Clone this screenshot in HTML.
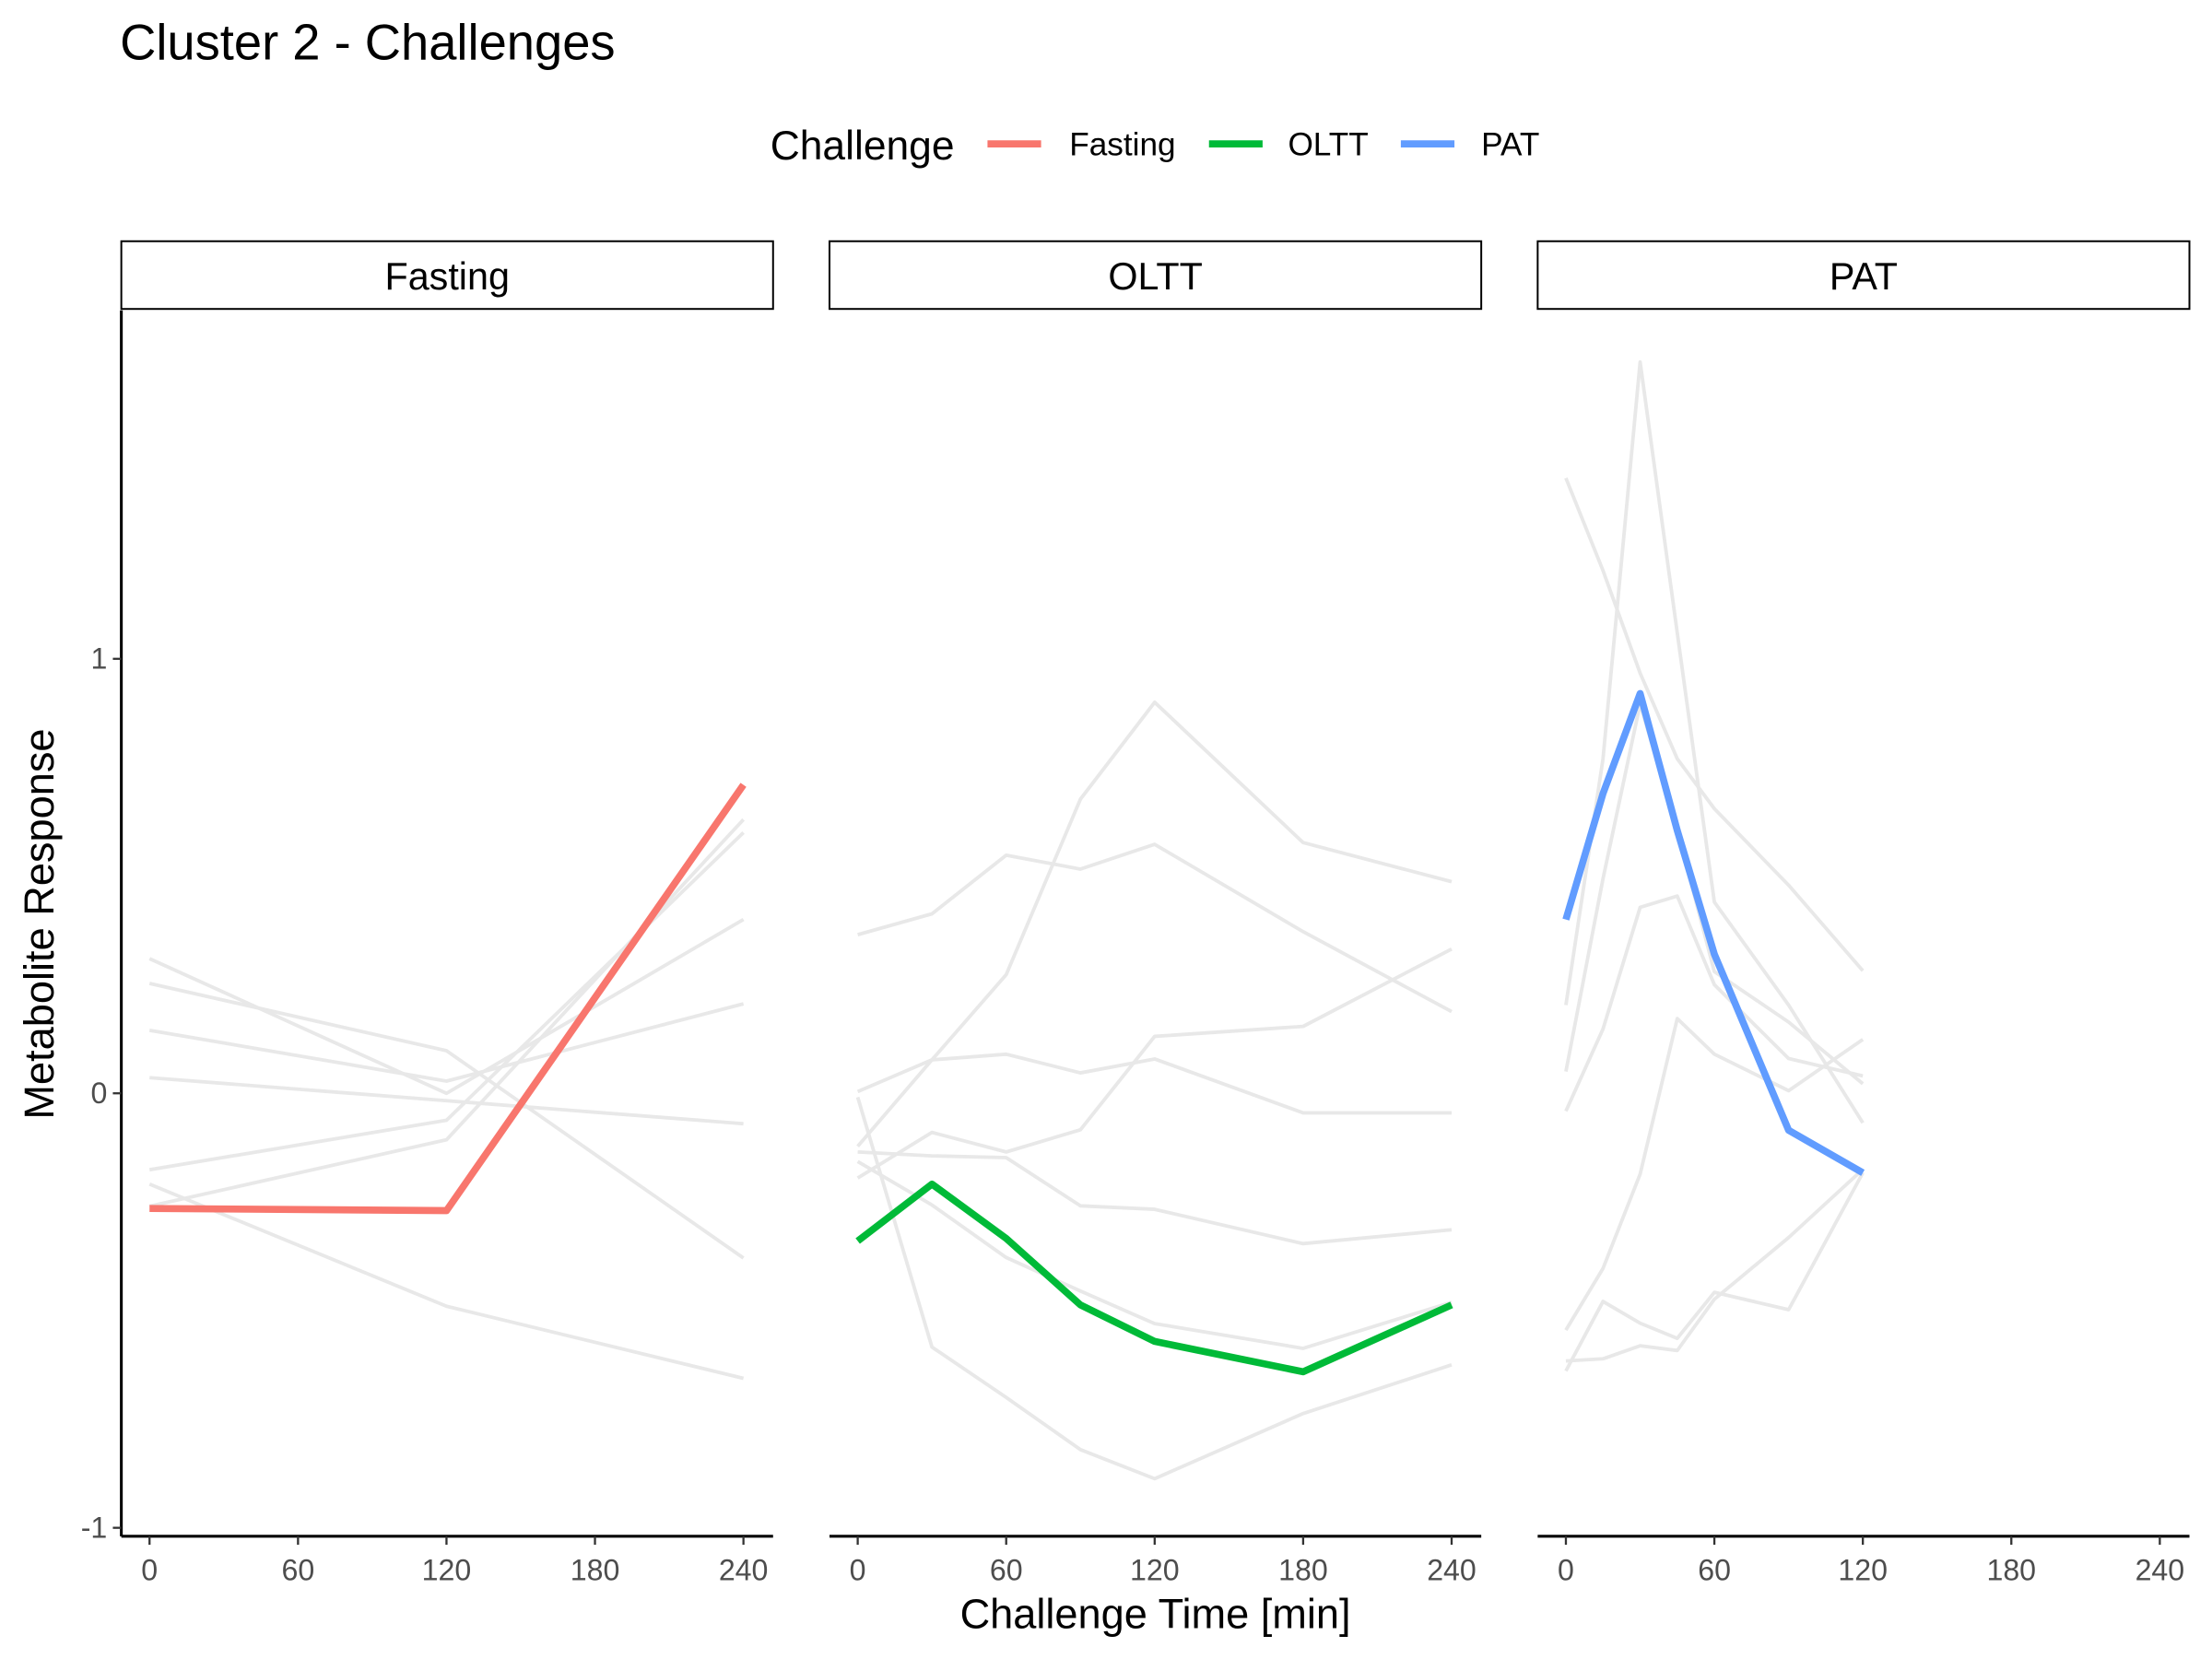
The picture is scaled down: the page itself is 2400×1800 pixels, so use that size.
<!DOCTYPE html>
<html><head><meta charset="utf-8"><style>
html,body{margin:0;padding:0;background:#fff;}
svg{display:block;font-family:"Liberation Sans",Arial,sans-serif;}
</style></head><body>
<svg id="chart" width="2400" height="1800" viewBox="0 0 1568 1176" xmlns="http://www.w3.org/2000/svg">
<text x="85" y="42" font-size="35.5" fill="#000">Cluster 2 - Challenges</text>
<g>
<text x="546" y="113" font-size="29">Challenge</text>
<line x1="700" y1="102" x2="738" y2="102" stroke="#F8766D" stroke-width="5"/>
<text x="758" y="110" font-size="23">Fasting</text>
<line x1="857" y1="102" x2="895" y2="102" stroke="#00BA38" stroke-width="5"/>
<text x="913" y="110" font-size="23">OLTT</text>
<line x1="993" y1="102" x2="1031" y2="102" stroke="#619CFF" stroke-width="5"/>
<text x="1050" y="110" font-size="23">PAT</text>
</g>
<g id="panels"></g>
<line x1="86" y1="220" x2="86" y2="1089" stroke="#000" stroke-width="2"/>
<text x="819" y="1154" font-size="29.5" text-anchor="middle">Challenge Time [min]</text>
<text transform="translate(38,655) rotate(-90)" font-size="29.5" text-anchor="middle">Metabolite Response</text>
</svg>
<script>
const panelNames = ["Fasting","OLTT","PAT"];
const panelColors = ["#F8766D","#00BA38","#619CFF"];
const xTicks = [0,60,120,180,240];
const yTicks = [-1,0,1];
const fastingTimes = [0,120,240];
const olttTimes = [0,30,60,90,120,180,240];
const patTimes = [0,15,30,45,60,90,120];
const fastingMean = [-0.265,-0.27,0.71];
const fastingGrey = [
 [0.31,0.0,0.40],[0.253,0.098,-0.379],[0.145,0.028,0.206],[0.036,-0.017,-0.07],
 [-0.176,-0.062,0.60],[-0.26,-0.107,0.63],[-0.209,-0.49,-0.656]];
const oltMean = [-0.34,-0.209,-0.334,-0.487,-0.571,-0.641,-0.487];
const oltGrey = [
 [-0.122,0.077,0.273,0.677,0.90,0.577,0.487],
 [0.365,0.413,0.548,0.516,0.573,0.372,0.188],
 [0.004,0.077,0.09,0.047,0.079,-0.045,-0.045],
 [-0.195,-0.09,-0.135,-0.084,0.131,0.154,0.332],
 [-0.135,-0.144,-0.148,-0.259,-0.267,-0.346,-0.314],
 [-0.157,-0.257,-0.378,-0.455,-0.53,-0.587,-0.481],
 [-0.009,-0.584,-0.70,-0.82,-0.887,-0.737,-0.625]];
const patMean = [0.40,0.69,0.92,0.605,0.32,-0.085,-0.183];
const patGrey = [
 [0.203,0.77,1.683,1.06,0.44,0.203,-0.068],
 [1.416,1.203,0.967,0.77,0.655,0.479,0.282],
 [0.05,0.494,0.896,0.605,0.28,0.164,0.022],
 [-0.041,0.148,0.428,0.454,0.25,0.08,0.04],
 [-0.545,-0.403,-0.186,0.172,0.09,0.006,0.124],
 [-0.639,-0.479,-0.529,-0.564,-0.458,-0.498,-0.183],
 [-0.616,-0.611,-0.581,-0.592,-0.474,-0.332,-0.175]];

const NS="http://www.w3.org/2000/svg";
const panelsG=document.getElementById('panels');
const panelLeft=[86,588,1090], panelW=462;
function yScale(v){return 775-v*308;}
function xScale(p,t){return panelLeft[p]+20+t*(421/240);}
function mk(tag,attrs,parent){const e=document.createElementNS(NS,tag);for(const k in attrs)e.setAttribute(k,attrs[k]);parent.appendChild(e);return e;}
const times=[fastingTimes,olttTimes,patTimes];
const greys=[fastingGrey,oltGrey,patGrey];
const means=[fastingMean,oltMean,patMean];
for(let p=0;p<3;p++){
 const g=mk('g',{},panelsG);
 
 
 const r=mk('rect',{x:panelLeft[p],y:171,width:panelW,height:48,fill:'#fff',stroke:'#000','stroke-width':1.3},g);
 
 
 const st=mk('text',{x:panelLeft[p]+panelW/2,y:205,'font-size':27,'text-anchor':'middle'},g);
 st.textContent=panelNames[p];
 
 
 const ax=mk('line',{x1:panelLeft[p],y1:1089,x2:panelLeft[p]+panelW,y2:1089,stroke:'#000','stroke-width':2},g);
 
 
 xTicks.forEach(t=>{
  const x=xScale(p,t);
  const tk=mk('line',{x1:x,y1:1089,x2:x,y2:1095,stroke:'#333','stroke-width':1.5},g);
  
  
  const tl=mk('text',{x:x,y:1120,'font-size':21,'text-anchor':'middle',fill:'#4d4d4d'},g);
  tl.textContent=t;
  
  
 });
 greys[p].forEach(s=>{
  const pl=mk('polyline',{points:s.map((v,i)=>xScale(p,times[p][i])+','+yScale(v)).join(' '),fill:'none',stroke:'#e8e8e8','stroke-width':2.5,'stroke-linejoin':'round'},g);
  
  
 });
 const m=mk('polyline',{points:means[p].map((v,i)=>xScale(p,times[p][i])+','+yScale(v)).join(' '),fill:'none',stroke:panelColors[p],'stroke-width':5,'stroke-linejoin':'round'},g);
 
 
}
const svg=document.getElementById('chart');
yTicks.forEach(v=>{
 const y=yScale(v);
 const tk=mk('line',{x1:80,y1:y,x2:86,y2:y,stroke:'#333','stroke-width':1.5},svg);
 
 
 const tl=mk('text',{x:76,y:y+7,'font-size':21,'text-anchor':'end',fill:'#4d4d4d'},svg);
 tl.textContent=v;
 
 
});
</script>
</body></html>
